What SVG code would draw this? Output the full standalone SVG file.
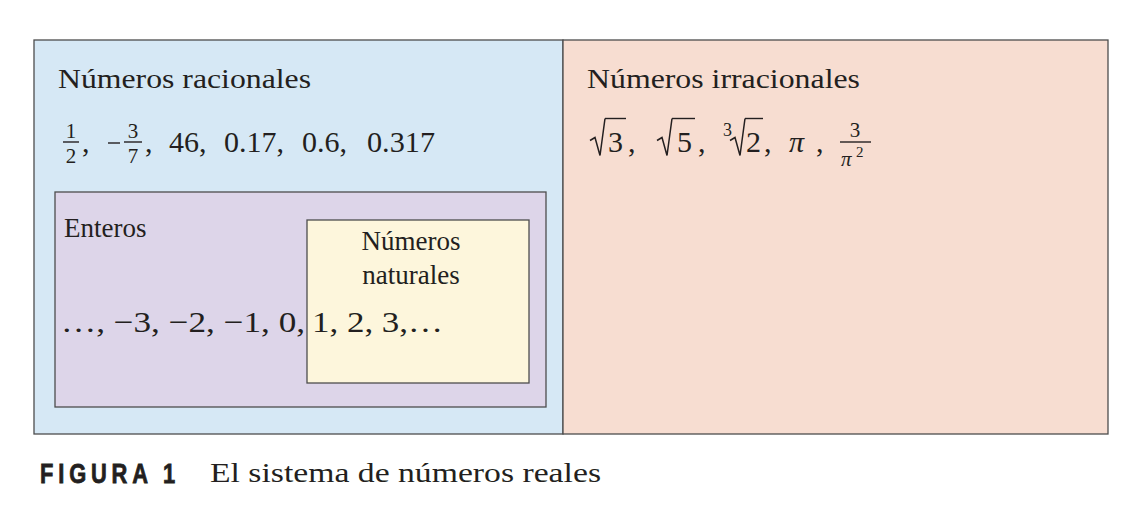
<svg xmlns="http://www.w3.org/2000/svg" width="1132" height="518" viewBox="0 0 1132 518">
<style>
.t{font-family:"Liberation Serif","Times New Roman",serif;fill:#231f20}
.m{font-size:30px}
.s{font-size:21px}
.box{stroke:#4d4d4d;stroke-width:1.3}
.ln{stroke:#231f20;stroke-width:1.4;fill:none}
.rad{stroke:#231f20;stroke-width:1.5;fill:none;stroke-linejoin:miter}
.cap{font-family:"Liberation Sans","DejaVu Sans Condensed",sans-serif;font-weight:bold;font-size:27px;fill:#231f20;stroke:#231f20;stroke-width:0.8}
</style>
<defs>
<path id="radical" d="M0,22 L5,19 L10,37 L15,0"/>
</defs>
<rect width="1132" height="518" fill="#ffffff"/>
<g id="racionales">
<rect class="box" x="34" y="40" width="529" height="394" fill="#d6e8f5"/>
<text class="t" x="58" y="88" font-size="27" textLength="253" lengthAdjust="spacingAndGlyphs">Números racionales</text>
<g class="t">
<text class="s" x="71" y="138" text-anchor="middle">1</text>
<line class="ln" x1="63" y1="142" x2="79" y2="142"/>
<text class="s" x="71" y="163" text-anchor="middle">2</text>
<text class="m" x="82" y="152">,</text>
<line class="ln" x1="108" y1="143" x2="120" y2="143"/>
<text class="s" x="133" y="138" text-anchor="middle">3</text>
<line class="ln" x1="124" y1="142" x2="142" y2="142"/>
<text class="s" x="133" y="163" text-anchor="middle">7</text>
<text class="m" x="145" y="152">,</text>
<text class="m" x="169" y="152">46,</text>
<text class="m" x="224" y="152">0.17,</text>
<text class="m" x="302" y="152">0.6,</text>
<text class="m" x="367" y="152" textLength="68" lengthAdjust="spacingAndGlyphs">0.317</text>
</g>
</g>
<g id="irracionales">
<rect class="box" x="563" y="40" width="545" height="394" fill="#f7ddd1"/>
<text class="t" x="587" y="88" font-size="27" textLength="273" lengthAdjust="spacingAndGlyphs">Números irracionales</text>
<g class="t">
<use href="#radical" class="rad" x="590" y="118.5"/>
<line class="ln" x1="605" y1="118.5" x2="626" y2="118.5"/>
<text class="m" x="608" y="152">3</text>
<text class="m" x="628" y="152">,</text>
<use href="#radical" class="rad" x="657" y="118.5"/>
<line class="ln" x1="672" y1="118.5" x2="695" y2="118.5"/>
<text class="m" x="677" y="152">5</text>
<text class="m" x="698" y="152">,</text>
<text x="723" y="136" font-size="18">3</text>
<use href="#radical" class="rad" x="730" y="118.5"/>
<line class="ln" x1="745" y1="118.5" x2="763" y2="118.5"/>
<text class="m" x="746" y="152">2</text>
<text class="m" x="764" y="152">,</text>
<text class="m" x="789" y="152" font-style="italic">π</text>
<text class="m" x="816" y="152">,</text>
<text class="s" x="855" y="137" text-anchor="middle">3</text>
<line class="ln" x1="840" y1="142" x2="871" y2="142"/>
<text class="s" x="841" y="166" font-style="italic">π</text>
<text x="856" y="157" font-size="15">2</text>
</g>
</g>
<g id="enteros">
<rect class="box" x="55" y="192" width="491" height="215" fill="#ddd5e9"/>
<text class="t" x="64" y="237" font-size="27">Enteros</text>
<text class="t m" x="61" y="332" textLength="244" lengthAdjust="spacingAndGlyphs">…, −3, −2, −1, 0,</text>
</g>
<g id="naturales">
<rect class="box" x="307" y="220" width="222" height="163" fill="#fdf6dc"/>
<text class="t" x="411" y="250" font-size="27" text-anchor="middle">Números</text>
<text class="t" x="411" y="284" font-size="27" text-anchor="middle">naturales</text>
<text class="t m" x="312" y="332" textLength="131" lengthAdjust="spacingAndGlyphs">1, 2, 3,…</text>
</g>
<g id="connectors"></g>
<g id="caption">
<text class="cap" x="40" y="483" letter-spacing="6" textLength="140" lengthAdjust="spacingAndGlyphs">FIGURA 1</text>
<text class="t" x="210" y="482" font-size="28" textLength="391" lengthAdjust="spacingAndGlyphs">El sistema de números reales</text>
</g>
</svg>
